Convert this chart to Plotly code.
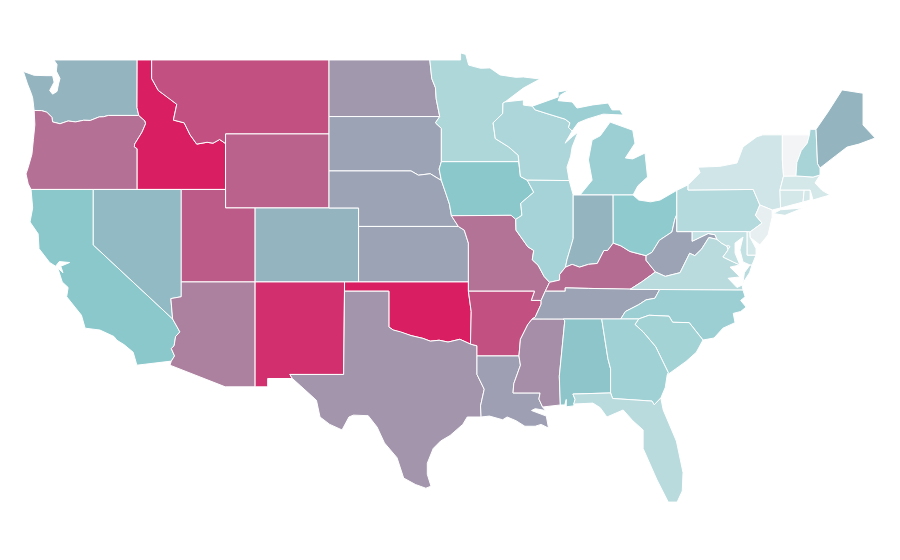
import plotly.graph_objects as go
from plotly.colors import sample_colorscale

states = ["WA","OR","CA","ID","NV","MT","WY","UT","AZ","CO","NM","ND","SD","NE","KS","OK","TX",
          "MN","IA","MO","AR","LA","WI","IL","MS","MI","IN","KY","TN","AL","OH","WV","VA","NC",
          "SC","GA","FL","PA","NY","MD","DE","NJ","CT","RI","MA","VT","NH","ME","DC"]
values = [56,76,50,100,54,85,80,82,71,56,95,64,61,61,61,100,65,
          33,50,75,85,62,34,37,67,42,56,77,61,51,48,61,28,42,
          38,40,28,30,17,23,15,6,15,15,15,0,36,56,17]
colorscale = [[0, "#f3f4f6"], [0.5, "#8bc8cc"], [1, "#d91e62"]]

# shared borders, lon/lat
COLUMBIA = [(-116.92,46.0),(-118.98,46.0),(-119.3,45.93),(-119.6,45.92),(-120.2,45.73),(-120.65,45.74),(-121.2,45.65),(-121.7,45.7),(-122.25,45.55),(-122.75,45.65),(-122.8,45.9),(-123.15,46.18),(-123.5,46.26),(-124.0,46.27)]
SNAKE = [(-116.92,46.0),(-116.5,45.7),(-116.46,45.55),(-116.7,45.1),(-116.85,44.9),(-117.2,44.45),(-117.22,44.3),(-117.03,44.2),(-117.03,42.0)]
COLORADO_LOW = [(-114.63,35.0),(-114.14,34.3),(-114.43,34.05),(-114.53,33.55),(-114.72,33.4),(-114.5,33.0),(-114.72,32.72)]
BITTERROOT = [(-116.05,49.0),(-116.05,48.0),(-115.6,47.35),(-114.9,46.95),(-114.35,46.6),(-114.58,45.75),(-113.85,45.6),(-113.45,44.95),(-113.0,44.45),(-112.3,44.55),(-111.9,44.5),(-111.45,44.7),(-111.05,44.48)]
RED_RIVER_N = [(-97.23,49.0),(-97.1,48.0),(-96.85,47.5),(-96.8,46.9),(-96.56,45.94)]
MN_SD = [(-96.56,45.94),(-96.85,45.6),(-96.45,45.3),(-96.45,43.5)]
MO_UPPER = [(-98.5,43.0),(-98.0,42.77),(-97.2,42.85),(-96.7,42.6),(-96.45,42.49)]
BIG_SIOUX = [(-96.45,43.5),(-96.6,43.1),(-96.45,42.49)]
MO_LOWER_N = [(-96.45,42.49),(-96.1,41.7),(-95.9,41.2),(-95.77,40.58)]
MO_LOWER_S = [(-95.77,40.58),(-95.3,40.0),(-94.9,39.8),(-94.62,39.1)]
MN_WI = [(-92.14,46.73),(-92.28,46.67),(-92.3,46.1),(-92.95,45.6),(-92.8,44.75),(-91.9,44.3),(-91.25,43.85),(-91.22,43.5)]
MI_WI = [(-90.3,46.5),(-90.1,46.3),(-89.1,46.05),(-88.08,45.8),(-87.75,45.6),(-87.85,45.35),(-87.6,45.16)]
MISS_WI = [(-91.22,43.5),(-91.1,42.7),(-90.64,42.5)]
MISS_IA_IL = [(-90.64,42.5),(-90.2,41.85),(-91.08,41.25),(-91.0,40.6),(-91.42,40.38)]
MISS_IL_MO = [(-91.42,40.38),(-91.4,39.8),(-90.6,38.9),(-90.2,38.7),(-90.3,38.2),(-89.9,37.9),(-89.5,37.3),(-89.13,36.98)]
WABASH = [(-87.53,39.35),(-87.6,39.1),(-87.95,38.2),(-88.05,37.8)]
OHIO_IL_KY = [(-88.05,37.8),(-88.45,37.4),(-88.45,37.1),(-89.13,36.98)]
OHIO_IN_KY = [(-84.82,39.1),(-85.2,38.7),(-85.45,38.7),(-85.9,38.0),(-86.5,37.95),(-87.1,37.8),(-87.6,37.95),(-88.05,37.8)]
OHIO_OH_KY = [(-82.6,38.42),(-83.7,38.65),(-84.3,38.95),(-84.82,39.1)]
OHIO_OH_WV = [(-80.52,40.64),(-80.65,40.4),(-80.85,39.7),(-81.7,39.25),(-82.2,38.6),(-82.6,38.42)]
TUG = [(-81.97,37.54),(-82.6,38.17),(-82.6,38.42)]
KY_VA = [(-83.68,36.6),(-82.9,37.0),(-81.97,37.54)]
KY_TN = [(-89.42,36.5),(-88.07,36.5),(-88.07,36.68),(-86.5,36.65),(-83.68,36.6)]
MISS_KY_MO = [(-89.13,36.98),(-89.42,36.5)]
BOOT = [(-89.42,36.5),(-89.7,36.0),(-90.37,36.0),(-90.15,36.5)]
MISS_TN = [(-89.7,36.0),(-89.7,35.8),(-90.1,35.1),(-90.3,35.0)]
MISS_AR_MS = [(-90.3,35.0),(-90.6,34.7),(-91.1,33.9),(-91.2,33.0)]
MISS_LA_MS = [(-91.2,33.0),(-91.1,32.5),(-91.55,31.5),(-91.6,31.0),(-89.77,31.0),(-89.85,30.67),(-89.6,30.24)]
TN_NC = [(-81.68,36.59),(-82.0,36.12),(-82.6,36.03),(-83.1,35.77),(-84.0,35.4),(-84.32,34.99)]
RED_RIVER_S = [(-100.0,34.56),(-99.7,34.4),(-99.2,34.3),(-98.5,34.1),(-97.7,33.95),(-97.2,33.8),(-96.6,33.85),(-96.0,33.75),(-95.2,33.9),(-94.48,33.64)]
AR_OK = [(-94.62,36.5),(-94.43,35.4),(-94.48,33.64)]
SABINE = [(-94.04,33.0),(-94.04,32.0),(-93.55,31.2),(-93.8,30.3),(-93.76,29.7)]
GA_SC = [(-83.1,35.0),(-83.35,34.7),(-82.8,34.3),(-81.95,33.5),(-81.4,32.6),(-81.1,32.1),(-81.17,31.97)]
SC_NC = [(-83.1,35.0),(-82.4,35.2),(-81.05,35.15),(-80.8,34.82),(-79.68,34.8),(-78.75,33.86)]
GA_FL = [(-85.0,31.0),(-84.86,30.7),(-82.2,30.56),(-82.05,30.36),(-81.6,30.73)]
AL_GA = [(-85.6,35.0),(-85.18,32.85),(-85.0,32.3),(-85.0,31.0)]
POTOMAC = [(-76.25,37.92),(-76.7,38.08),(-77.4,38.35),(-77.05,38.73),(-77.12,38.93),(-77.5,39.1),(-77.8,39.3)]
VA_WV = [(-77.8,39.3),(-78.35,39.4),(-78.85,38.77),(-79.3,38.42),(-79.65,38.55),(-80.3,37.5),(-81.3,37.3),(-81.97,37.54)]
MD_WV = [(-77.8,39.3),(-77.93,39.55),(-78.4,39.62),(-79.48,39.2),(-79.48,39.72)]
DELAWARE_R = [(-74.9,41.16),(-75.2,40.6),(-74.75,40.18),(-75.57,39.7)]
VT_NH = [(-71.55,44.95),(-71.7,44.5),(-72.1,44.1),(-72.4,43.45),(-72.46,42.73)]
NY_VT_MA = [(-73.38,44.95),(-73.38,43.6),(-73.3,42.72),(-73.54,41.97)]

# state outlines, lon/lat
WA = [(-122.66,49.0),(-117.03,49.0),(-117.04,46.42)] + COLUMBIA + [(-124.07,46.7),(-124.1,46.95),(-124.2,47.2),(-124.45,47.7),(-124.73,48.38),(-124.0,48.17),(-123.2,48.15),(-122.75,48.15),(-122.65,47.8),(-122.95,47.35),(-122.75,47.15),(-122.45,47.3),(-122.35,47.7),(-122.25,48.0),(-122.5,48.4),(-122.45,48.75)]
OR = COLUMBIA[::-1] + SNAKE[1:] + [(-124.21,42.0),(-124.4,42.3),(-124.55,42.84),(-124.4,43.2),(-124.15,43.9),(-124.05,44.7),(-123.95,45.5)]
CA = [(-124.21,42.0),(-120.0,42.0),(-120.0,39.0)] + COLORADO_LOW + [(-117.05,32.5),(-117.3,33.2),(-117.9,33.6),(-118.4,33.85),(-118.6,34.05),(-119.55,34.4),(-120.55,34.5),(-120.8,35.2),(-121.8,36.2),(-121.7,36.7),(-122.1,37.0),(-122.3,37.45),(-122.4,37.75),(-122.05,37.5),(-122.2,37.85),(-121.6,38.05),(-122.3,38.1),(-122.55,37.85),(-122.95,38.05),(-123.67,38.8),(-123.73,39.6),(-124.28,40.24),(-124.1,41.0)]
NV = [(-120.0,42.0),(-114.04,42.0),(-114.04,36.2),(-114.75,36.1),(-114.63,35.0),(-120.0,39.0)]
ID = [(-117.03,49.0)] + BITTERROOT + [(-111.05,42.0),(-117.03,42.0)] + SNAKE[::-1][1:] + [(-117.04,46.42)]
MT = BITTERROOT + [(-111.05,45.0),(-104.05,45.0),(-104.05,49.0)]
WY = [(-111.05,45.0),(-104.05,45.0),(-104.05,41.0),(-111.05,41.0)]
UT = [(-114.05,42.0),(-111.05,42.0),(-111.05,41.0),(-109.05,41.0),(-109.05,37.0),(-114.05,37.0)]
AZ = [(-114.05,37.0),(-109.05,37.0),(-109.05,31.33),(-111.07,31.33),(-114.81,32.5)] + COLORADO_LOW[::-1] + [(-114.75,36.1),(-114.05,36.2)]
CO = [(-109.05,41.0),(-102.05,41.0),(-102.05,37.0),(-109.05,37.0)]
NM = [(-109.05,37.0),(-103.0,37.0),(-103.06,32.0),(-106.7,32.0),(-106.53,31.78),(-108.2,31.78),(-108.2,31.33),(-109.05,31.33)]
ND = [(-104.05,49.0)] + RED_RIVER_N + [(-104.05,45.94)]
SD = [(-104.05,45.94)] + MN_SD + BIG_SIOUX[1:] + MO_UPPER[::-1][1:] + [(-104.05,43.0)]
NE = [(-104.05,43.0)] + MO_UPPER + MO_LOWER_N[1:] + MO_LOWER_S[1:2] + [(-102.05,40.0),(-102.05,41.0),(-104.05,41.0)]
KS = [(-102.05,40.0),(-95.3,40.0),(-94.9,39.8),(-94.62,39.1),(-94.62,37.0),(-102.05,37.0)]
OK = [(-103.0,37.0),(-94.62,37.0)] + AR_OK[:] + RED_RIVER_S[::-1][1:] + [(-100.0,36.5),(-103.0,36.5)]
TX = [(-103.0,36.5),(-100.0,36.5)] + RED_RIVER_S + [(-94.04,33.55)] + SABINE + [(-94.7,29.7),(-95.0,29.3),(-95.86,28.7),(-96.5,28.4),(-97.0,28.0),(-97.4,27.2),(-97.4,26.6),(-97.15,25.96),(-97.5,25.85),(-98.2,26.05),(-99.0,26.4),(-99.45,27.5),(-100.3,28.3),(-100.8,29.16),(-101.4,29.77),(-102.4,29.8),(-102.7,29.7),(-103.17,29.0),(-104.0,29.3),(-104.66,29.7),(-104.9,30.6),(-106.0,31.4),(-106.53,31.78),(-106.7,32.0),(-103.06,32.0)]
MN = RED_RIVER_N[:] + MN_SD[1:] + [(-91.22,43.5)] + MN_WI[::-1][1:] + [(-90.9,47.48),(-89.77,47.97),(-90.9,48.08),(-91.4,48.06),(-92.48,48.19),(-93.16,48.57),(-93.8,48.55),(-94.6,48.72),(-94.8,49.3),(-95.15,49.38),(-95.15,49.0)]
IA = BIG_SIOUX + MO_LOWER_N[1:] + [(-91.73,40.6),(-91.42,40.38)] + MISS_IA_IL[::-1][1:] + MISS_WI[::-1][1:]
MO = [(-95.77,40.58),(-91.73,40.6)] + MISS_IL_MO + MISS_KY_MO[1:] + BOOT[1:] + [(-94.62,36.5),(-94.62,39.1),(-94.9,39.8),(-95.3,40.0)]
AR = [(-94.62,36.5),(-90.15,36.5),(-90.37,36.0),(-89.7,36.0)] + MISS_TN[1:] + MISS_AR_MS[1:] + [(-94.04,33.0),(-94.04,33.55),(-94.48,33.64),(-94.43,35.4)]
LA = [(-94.04,33.0)] + MISS_LA_MS + [(-89.4,30.05),(-90.1,30.15),(-90.35,30.05),(-89.75,29.85),(-89.35,29.75),(-89.2,29.1),(-89.7,29.3),(-90.1,29.2),(-90.8,29.2),(-91.4,29.5),(-92.0,29.7),(-92.3,29.55),(-93.2,29.75)] + SABINE[::-1]
WI = MN_WI + MISS_WI[1:] + [(-87.8,42.48),(-87.95,43.2),(-87.7,43.8),(-87.6,44.3),(-87.2,45.1),(-87.6,44.85),(-88.08,44.5)] + MI_WI[::-1] + [(-90.9,46.56),(-90.9,46.84)]
IL = MISS_IA_IL + MISS_IL_MO[1:] + OHIO_IL_KY[::-1][1:] + WABASH[::-1][1:] + [(-87.53,41.7),(-87.8,42.48)]
MS = [(-90.3,35.0),(-88.2,35.0),(-88.1,34.9),(-88.47,31.9),(-88.4,30.35),(-89.6,30.24)] + MISS_LA_MS[::-1][1:] + MISS_AR_MS[::-1][1:]
MI_UP = MI_WI + [(-87.2,45.6),(-86.6,45.8),(-85.5,46.07),(-84.15,46.02),(-84.37,46.3),(-84.9,46.3),(-85.17,46.67),(-86.2,46.57),(-87.27,46.4),(-87.6,46.73),(-88.55,46.8),(-88.4,47.1),(-87.8,47.38),(-88.55,47.27),(-88.55,47.0)]
MI_LOW = [(-87.07,41.7),(-86.25,42.5),(-86.5,43.6),(-86.25,44.67),(-85.7,44.9),(-85.37,45.3),(-85.03,45.64),(-83.5,45.2),(-83.35,44.5),(-84.0,43.7),(-83.5,43.65),(-82.67,43.97),(-82.5,42.67),(-83.15,42.2),(-83.48,41.7)]
IN = [(-87.53,41.7),(-87.07,41.7),(-84.83,41.7),(-84.82,39.1)] + OHIO_IN_KY[1:] + WABASH[::-1][1:]
KY = KY_TN + KY_VA[1:] + TUG[1:] + OHIO_OH_KY[1:] + OHIO_IN_KY[1:] + OHIO_IL_KY[1:] + MISS_KY_MO[1:]
TN = [(-89.7,36.0),(-89.42,36.5)] + KY_TN[1:] + [(-81.68,36.59)] + TN_NC[1:] + [(-90.3,35.0)] + MISS_TN[::-1][1:]
AL = [(-88.2,35.0),(-85.6,35.0)] + AL_GA[1:] + [(-87.55,30.94),(-87.4,30.65),(-87.5,30.3),(-88.0,30.25),(-88.0,30.65),(-88.1,30.35),(-88.4,30.35),(-88.47,31.9),(-88.1,34.9)]
OH = [(-84.83,41.7),(-83.48,41.7),(-83.1,41.43),(-82.3,41.33),(-81.65,41.43),(-80.52,41.95)] + OHIO_OH_WV + OHIO_OH_KY[1:]
WV = [(-80.52,39.72)] + MD_WV[::-1] + VA_WV[1:] + TUG[1:] + OHIO_OH_WV[::-1][1:]
VA = [(-83.68,36.6),(-81.68,36.59),(-76.04,36.56),(-76.1,36.83),(-76.45,36.7),(-77.05,37.2),(-76.25,37.27),(-76.92,37.8)] + POTOMAC + VA_WV[1:] + KY_VA[::-1][1:]
VA_SHORE = [(-76.04,36.96),(-75.95,37.5),(-75.57,37.92),(-75.43,37.92),(-75.6,37.5)]
NC = [(-81.68,36.59)] + TN_NC[1:] + SC_NC + [(-78.0,33.97),(-77.4,34.5),(-76.58,34.8),(-76.7,35.3),(-76.2,35.4),(-75.83,35.64),(-76.2,36.0),(-75.9,36.2),(-76.04,36.56)]
SC = SC_NC + [(-79.2,33.2),(-79.9,32.7),(-80.6,32.3)] + GA_SC[::-1]
GA = [(-85.6,35.0),(-84.32,34.99)] + GA_SC + [(-81.3,31.3)] + GA_FL[::-1] + AL_GA[::-1][1:-1]
FL = [(-87.55,30.94)] + GA_FL + [(-81.44,30.08),(-81.0,29.2),(-80.55,28.4),(-80.1,26.7),(-80.15,25.7),(-80.5,25.1),(-81.1,25.1),(-81.86,26.3),(-82.2,26.9),(-82.8,28.0),(-82.8,29.0),(-83.5,29.5),(-84.15,30.08),(-85.25,29.7),(-85.7,30.2),(-86.2,30.45),(-87.5,30.4),(-87.4,30.65)]
PA = [(-80.52,41.95),(-79.76,42.25),(-79.76,41.97),(-75.35,42.0)] + DELAWARE_R + [(-75.76,39.72),(-80.52,39.72)]
NY = [(-79.76,42.25),(-78.95,42.9),(-79.08,43.2),(-77.6,43.25),(-76.45,43.43),(-76.04,44.3),(-75.1,44.85),(-74.7,44.95)] + NY_VT_MA + [(-73.5,41.0),(-74.07,40.89),(-74.9,41.16),(-75.35,42.0),(-79.76,41.97)]
NY_LI = [(-74.0,40.7),(-73.2,40.6),(-71.98,41.0),(-72.6,40.95),(-73.5,40.9)]
MD = [(-79.48,39.72),(-75.76,39.72),(-75.76,38.45),(-75.16,38.45),(-75.43,37.92),(-75.57,37.92),(-76.04,38.08),(-76.25,38.73),(-76.04,39.43),(-76.58,39.1),(-76.58,38.56)] + POTOMAC + MD_WV[1:4]
DE = [(-75.76,39.72),(-75.57,39.7),(-75.57,39.43),(-75.16,38.8),(-75.16,38.45),(-75.76,38.45)]
NJ = DELAWARE_R + [(-75.55,39.4),(-74.9,39.0),(-74.35,39.54),(-74.07,40.5),(-74.07,40.89)]
CT = [(-73.54,41.97),(-71.9,41.97),(-71.98,41.32),(-73.5,41.0)]
RI = [(-71.9,41.97),(-71.5,41.97),(-71.5,41.43),(-71.98,41.32)]
MA = [(-73.54,41.97),(-73.3,42.72),(-72.46,42.73),(-71.3,42.67),(-70.83,42.78),(-71.17,42.35),(-70.7,41.95),(-70.15,41.7),(-70.6,41.6),(-71.3,41.43),(-71.5,41.97)]
VT = [(-73.38,44.95)] + VT_NH + [(-73.3,42.72),(-73.38,43.6)]
NH = [(-71.5,45.25),(-71.1,45.25),(-71.0,43.4),(-70.83,43.16),(-70.83,42.78),(-71.3,42.67)] + VT_NH[::-1]
ME = [(-71.1,45.25),(-70.29,46.19),(-69.34,47.38),(-67.92,47.2),(-67.92,45.48),(-67.1,44.78),(-68.2,44.45),(-69.0,44.29),(-69.8,43.8),(-70.83,43.16),(-71.0,43.4)]
DC = [(-77.12,38.93),(-77.04,39.0),(-76.91,38.89),(-77.04,38.79)]

outlines = {"WA":[WA],"OR":[OR],"CA":[CA],"ID":[ID],"NV":[NV],"MT":[MT],"WY":[WY],"UT":[UT],"AZ":[AZ],
            "CO":[CO],"NM":[NM],"ND":[ND],"SD":[SD],"NE":[NE],"KS":[KS],"OK":[OK],"TX":[TX],"MN":[MN],
            "IA":[IA],"MO":[MO],"AR":[AR],"LA":[LA],"WI":[WI],"IL":[IL],"MS":[MS],"MI":[MI_UP,MI_LOW],
            "IN":[IN],"KY":[KY],"TN":[TN],"AL":[AL],"OH":[OH],"WV":[WV],"VA":[VA,VA_SHORE],"NC":[NC],
            "SC":[SC],"GA":[GA],"FL":[FL],"PA":[PA],"NY":[NY,NY_LI],"MD":[MD],"DE":[DE],"NJ":[NJ],
            "CT":[CT],"RI":[RI],"MA":[MA],"VT":[VT],"NH":[NH],"ME":[ME],"DC":[DC]}

colors = sample_colorscale(colorscale, [v / 100 for v in values])

fig = go.Figure()
for state, color in zip(states, colors):
    xs, ys = [], []
    for ring in outlines[state]:
        closed = ring + ring[:1]
        xs += [p[0] for p in closed] + [None]
        ys += [p[1] for p in closed] + [None]
    fig.add_trace(go.Scatter(x=xs, y=ys, mode="lines", fill="toself", fillcolor=color,
                             line=dict(color="white", width=1), name=state, hoverinfo="name"))

fig.update_layout(width=900, height=560, margin=dict(l=0, r=0, t=0, b=0), showlegend=False,
                  paper_bgcolor="white", plot_bgcolor="white",
                  xaxis=dict(range=[-126.31, -65.42], visible=False),
                  yaxis=dict(range=[21.97, 52.24], visible=False))
# page body has a default 8px margin, the reference sits flush
fig.write_html("out.html", config={"displayModeBar": False},
               post_script="document.body.style.margin='0';")
